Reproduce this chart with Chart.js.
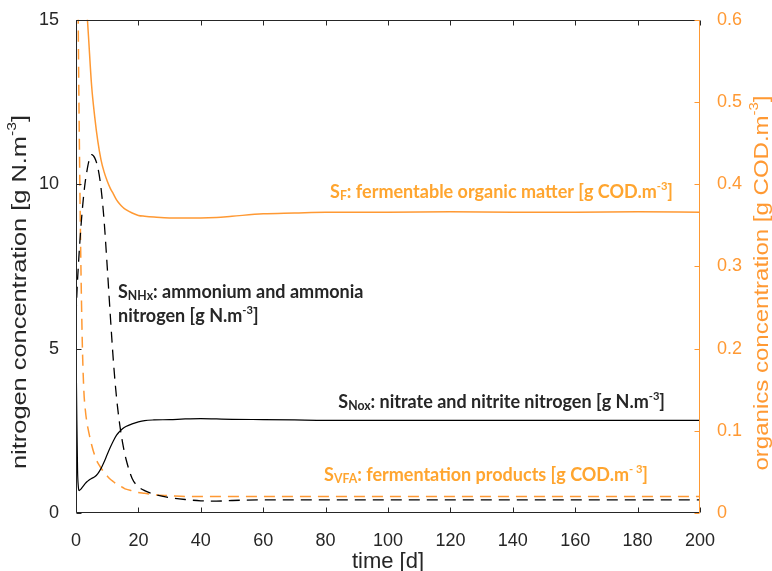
<!DOCTYPE html>
<html>
<head>
<meta charset="utf-8">
<script src="https://cdn.jsdelivr.net/npm/chart.js@4.4.0/dist/chart.umd.min.js"></script>
<style>
  html, body { margin: 0; padding: 0; background: #fff; }
  #wrap { width: 772px; height: 571px; position: relative; }
</style>
</head>
<body>
<div id="wrap"><canvas id="chart"></canvas></div>
<script>
// simulation output, time in days
const timeDays = [0, 0.25, 0.5, 0.75, 1, 1.5, 2, 2.5, 3, 3.5, 4, 5, 6, 7, 8, 9, 10, 11, 12, 13, 14, 15, 16, 18, 20, 22, 25, 30, 35, 40, 45, 50, 60, 70, 80, 100, 120, 140, 160, 180, 200];

// nitrogen species [g N.m-3] (left axis)
const nhxConc = [6.0, 6.6, 7.1, 7.5, 7.9, 8.6, 9.2, 9.7, 10.1, 10.4, 10.65, 10.9, 10.8, 10.5, 9.9, 8.9, 7.5, 6.0, 4.6, 3.5, 2.7, 2.1, 1.65, 1.05, 0.8, 0.68, 0.57, 0.47, 0.41, 0.37, 0.36, 0.38, 0.40, 0.40, 0.40, 0.40, 0.40, 0.40, 0.40, 0.40, 0.40];
const noxConc = [5.2, 3.0, 1.3, 0.8, 0.68, 0.72, 0.78, 0.84, 0.9, 0.95, 0.99, 1.05, 1.1, 1.2, 1.35, 1.55, 1.78, 2.0, 2.2, 2.37, 2.48, 2.57, 2.63, 2.71, 2.77, 2.81, 2.83, 2.84, 2.86, 2.87, 2.86, 2.85, 2.84, 2.83, 2.82, 2.82, 2.82, 2.82, 2.82, 2.82, 2.82];

// organics [g COD.m-3] (right axis)
const sfConc = [1.4, 1.25, 1.12, 1.0, 0.92, 0.8, 0.72, 0.68, 0.64, 0.61, 0.58, 0.52, 0.482, 0.452, 0.43, 0.415, 0.404, 0.395, 0.388, 0.381, 0.376, 0.372, 0.369, 0.365, 0.362, 0.361, 0.360, 0.359, 0.359, 0.359, 0.3595, 0.361, 0.364, 0.365, 0.366, 0.366, 0.3665, 0.366, 0.366, 0.3665, 0.366];
const vfaConc = [1.2, 0.95, 0.72, 0.58, 0.48, 0.32, 0.21, 0.15, 0.125, 0.11, 0.1, 0.083, 0.07, 0.061, 0.055, 0.049, 0.045, 0.041, 0.038, 0.035, 0.033, 0.031, 0.029, 0.027, 0.025, 0.024, 0.022, 0.021, 0.02, 0.02, 0.02, 0.02, 0.02, 0.02, 0.02, 0.02, 0.02, 0.02, 0.02, 0.02, 0.02];

const timeTicks = [0, 20, 40, 60, 80, 100, 120, 140, 160, 180, 200];
const nitrogenTicks = [0, 5, 10, 15];
const organicsTicks = [0, 0.1, 0.2, 0.3, 0.4, 0.5, 0.6];

const DARK = '#262626';
const ORANGE = '#FF9933';
const NOTE_ORANGE = '#FFA52F';
const AXIS_FONT = '"Liberation Sans", Arial, sans-serif';
const NOTE_FONT = 'Lato, "Open Sans", sans-serif';
const NOTE_SIZE = 18;

const toPoints = ys => timeDays.map((t, i) => ({ x: t, y: ys[i] }));

// text runs: plain, subscript or superscript pieces drawn one after another
function runWidth(ctx, parts, size, weight, family) {
  let w = 0;
  parts.forEach(p => {
    const fs = p.sub ? size * 0.68 : p.sup ? size * 0.62 : size;
    ctx.font = `${weight} ${fs}px ${family}`;
    w += ctx.measureText(p.t).width;
  });
  return w;
}

function drawRun(ctx, x, y, parts, size, weight, family) {
  let cx = x;
  parts.forEach(p => {
    let fs = size, dy = 0;
    if (p.sub) { fs = size * 0.68; dy = 1.5; }
    if (p.sup) { fs = size * 0.62; dy = -size * 0.45; }
    ctx.font = `${weight} ${fs}px ${family}`;
    ctx.fillText(p.t, cx, y + dy);
    cx += ctx.measureText(p.t).width;
  });
}

// rotated axis title, stretched along its baseline to the given length
function drawAxisTitle(ctx, cx, cy, parts, size, length, color) {
  ctx.save();
  ctx.translate(cx, cy);
  ctx.rotate(-Math.PI / 2);
  const w = runWidth(ctx, parts, size, 'normal', AXIS_FONT);
  ctx.scale(length / w, 1);
  ctx.fillStyle = color;
  ctx.textBaseline = 'alphabetic';
  ctx.textAlign = 'left';
  drawRun(ctx, -w / 2, size * 0.36, parts, size, 'normal', AXIS_FONT);
  ctx.restore();
}

const notes = [
  { parts: [{ t: 'S' }, { t: 'F', sub: true }, { t: ': fermentable organic matter [g COD.m' }, { t: '-3', sup: true }, { t: ']' }],
    right: 673, base: 198, color: NOTE_ORANGE },
  { parts: [{ t: 'S' }, { t: 'NHx', sub: true }, { t: ': ammonium and ammonia' }],
    left: 118, base: 298, color: DARK },
  { parts: [{ t: 'nitrogen [g N.m' }, { t: '-3', sup: true }, { t: ']' }],
    left: 118, base: 322, color: DARK },
  { parts: [{ t: 'S' }, { t: 'Nox', sub: true }, { t: ': nitrate and nitrite nitrogen [g N.m' }, { t: '-3', sup: true }, { t: ']' }],
    right: 665, base: 408, color: DARK },
  { parts: [{ t: 'S' }, { t: 'VFA', sub: true }, { t: ': fermentation products [g COD.m' }, { t: '- 3', sup: true }, { t: ']' }],
    right: 648, base: 481, color: NOTE_ORANGE }
];

const framePlugin = {
  id: 'frame',
  afterDatasetsDraw(chart) {
    const { ctx, chartArea: a, scales } = chart;
    const L = Math.round(a.left) + 0.5, R = Math.round(a.right) - 0.5;
    const T = Math.round(a.top) + 0.5, B = Math.round(a.bottom) - 0.5;
    const tick = 5;
    ctx.save();
    ctx.lineWidth = 1;

    // box in dark grey, right side in orange
    ctx.strokeStyle = DARK;
    ctx.beginPath();
    ctx.moveTo(R, T); ctx.lineTo(L, T); ctx.lineTo(L, B); ctx.lineTo(R, B);
    timeTicks.forEach(v => {
      const x = Math.round(scales.x.getPixelForValue(v)) + 0.5;
      ctx.moveTo(x, B); ctx.lineTo(x, B - tick);
      ctx.moveTo(x, T); ctx.lineTo(x, T + tick);
    });
    nitrogenTicks.forEach(v => {
      const y = Math.round(scales.yN.getPixelForValue(v)) + 0.5;
      ctx.moveTo(L, y); ctx.lineTo(L + tick, y);
    });
    ctx.stroke();

    ctx.strokeStyle = ORANGE;
    ctx.beginPath();
    ctx.moveTo(R, T); ctx.lineTo(R, B + 0.5);
    organicsTicks.forEach(v => {
      const y = Math.round(scales.yO.getPixelForValue(v)) + 0.5;
      ctx.moveTo(R, y); ctx.lineTo(R - tick, y);
    });
    ctx.stroke();

    // curve annotations
    ctx.textBaseline = 'alphabetic';
    ctx.textAlign = 'left';
    notes.forEach(n => {
      const w = runWidth(ctx, n.parts, NOTE_SIZE, 'bold', NOTE_FONT);
      const x = n.left !== undefined ? n.left : n.right - w;
      ctx.fillStyle = n.color;
      drawRun(ctx, x, n.base, n.parts, NOTE_SIZE, 'bold', NOTE_FONT);
    });

    // axis titles
    drawAxisTitle(ctx, 18, 292,
      [{ t: 'nitrogen concentration [g N.m' }, { t: '-3', sup: true }, { t: ']' }], 21, 354, DARK);
    drawAxisTitle(ctx, 760, 283,
      [{ t: 'organics concentration [g COD.m' }, { t: '-3', sup: true }, { t: ']' }], 21, 375, ORANGE);
    ctx.fillStyle = DARK;
    ctx.font = `22px ${AXIS_FONT}`;
    ctx.textAlign = 'center';
    ctx.fillText('time [d]', (a.left + a.right) / 2, 568);
    ctx.restore();
  }
};

const setTicks = list => scale => { scale.ticks = list.map(v => ({ value: v })); };
const tickFont = { family: AXIS_FONT, size: 18 };

new Chart(document.getElementById('chart'), {
  type: 'line',
  data: {
    datasets: [
      { label: 'SNHx', data: toPoints(nhxConc), yAxisID: 'yN', borderColor: '#000', borderWidth: 1.3, borderDash: [11, 7] },
      { label: 'SNOx', data: toPoints(noxConc), yAxisID: 'yN', borderColor: '#000', borderWidth: 1.2 },
      { label: 'SF', data: toPoints(sfConc), yAxisID: 'yO', borderColor: ORANGE, borderWidth: 1.5 },
      { label: 'SVFA', data: toPoints(vfaConc), yAxisID: 'yO', borderColor: ORANGE, borderWidth: 1.5, borderDash: [11, 7] }
    ].map(ds => Object.assign(ds, { pointRadius: 0, fill: false, cubicInterpolationMode: 'monotone' }))
  },
  options: {
    responsive: true,
    maintainAspectRatio: false,
    animation: false,
    layout: { padding: { top: 19, left: 0, right: 0, bottom: 0 } },
    plugins: { legend: { display: false }, tooltip: { enabled: false } },
    scales: {
      x: {
        type: 'linear', min: 0, max: 200,
        afterBuildTicks: setTicks(timeTicks),
        afterFit: s => { s.height = 58; },
        grid: { display: false }, border: { display: false },
        ticks: { color: DARK, font: tickFont, padding: 9, maxRotation: 0, autoSkip: false }
      },
      yN: {
        type: 'linear', position: 'left', min: 0, max: 15,
        afterBuildTicks: setTicks(nitrogenTicks),
        afterFit: s => { s.width = 76; },
        grid: { display: false }, border: { display: false },
        ticks: { color: DARK, font: tickFont, padding: 9 }
      },
      yO: {
        type: 'linear', position: 'right', min: 0, max: 0.6,
        afterBuildTicks: setTicks(organicsTicks),
        afterFit: s => { s.width = 72; },
        grid: { display: false }, border: { display: false },
        ticks: { color: ORANGE, font: tickFont, padding: 9, callback: v => v === 0 ? '0' : v.toFixed(1) }
      }
    }
  },
  plugins: [framePlugin]
});
</script>
</body>
</html>
